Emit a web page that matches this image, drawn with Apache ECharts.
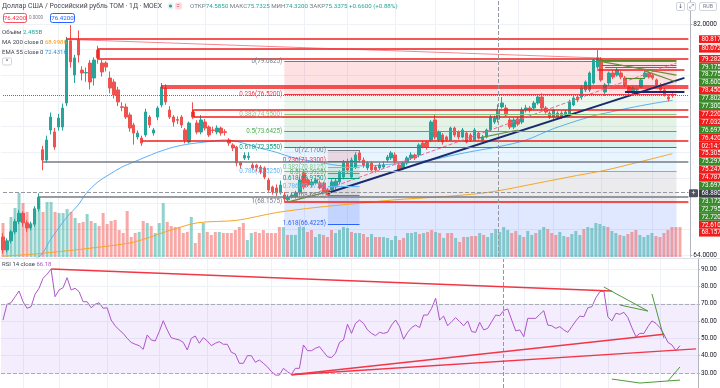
<!DOCTYPE html>
<html>
<head>
<meta charset="utf-8">
<title>USD/RUB TOM</title>
<script src="https://cdn.jsdelivr.net/npm/echarts@6.0.0/dist/echarts.min.js"></script>
<style>
html,body{margin:0;padding:0;background:#ffffff;overflow:hidden;}
#chart{width:720px;height:388px;}
</style>
</head>
<body>
<div id="chart"></div>
<script>
// ================= DATA =================
const categories = Array.from({length: 174}, (_, i) => 'D' + (i + 1));

const opens = [
 65.40, 64.39, 65.10, 65.80, 66.60, 67.25, 66.50, 66.10, 66.40, 67.60,
 72.20, 71.40, 73.74, 73.58, 73.97, 73.97, 75.84, 80.70, 78.02, 80.75,
 78.41, 78.18, 78.96, 77.79, 79.97, 78.96, 78.96, 77.79, 77.48, 76.86,
 75.55, 75.53, 74.91, 74.13, 73.19, 73.11, 73.35, 74.75, 73.50, 74.75,
 75.69, 77.01, 75.30, 74.75, 74.55, 74.75, 73.74, 72.80, 75.14, 74.28,
 73.58, 74.36, 73.97, 73.74, 73.58, 73.89, 73.60, 72.96, 72.57, 72.41,
 71.20, 71.55, 71.60, 71.01, 71.00, 70.85, 70.78, 69.84, 69.30, 69.22,
 68.83, 68.67, 68.30, 68.52, 68.55, 68.83, 70.39, 69.84, 69.45, 69.61,
 69.61, 69.61, 69.06, 69.06, 69.30, 69.69, 70.07, 71.24, 70.07, 70.85,
 71.95, 71.40, 70.78, 71.17, 70.85, 70.78, 70.85, 71.40, 71.56, 71.79,
 71.01, 70.78, 71.17, 71.56, 71.79, 71.79, 72.72, 72.80, 72.96, 74.52,
 72.96, 73.35, 73.19, 72.96, 73.89, 73.58, 73.19, 73.50, 73.35, 72.96,
 73.50, 72.96, 73.19, 73.74, 74.36, 74.585, 75.53, 75.45, 74.52, 73.97,
 74.60, 74.36, 75.30, 75.45, 75.45, 75.84, 76.31, 75.45, 75.06, 74.75,
 74.75, 75.06, 74.91, 74.91, 75.69, 76.31, 76.31, 76.86, 76.86, 77.40,
 78.65, 79.19, 76.70, 77.40, 78.18, 78.02, 78.18, 77.79, 77.09, 76.62,
 76.86, 77.09, 77.87, 78.18, 78.02, 77.64, 77.25, 76.86, 76.31, 76.50
];
const closes = [
 64.39, 65.10, 65.80, 66.60, 67.25, 66.50, 66.10, 66.40, 67.60, 68.50,
 71.40, 72.96, 74.75, 72.41, 74.67, 75.45, 80.75, 79.04, 79.35, 79.58,
 78.18, 78.22, 77.48, 79.19, 79.35, 78.26, 78.65, 77.01, 76.47, 75.92,
 75.50, 74.75, 73.89, 73.50, 73.50, 72.72, 75.14, 74.13, 73.74, 75.45,
 77.09, 75.92, 74.75, 74.36, 74.50, 74.13, 72.96, 74.28, 74.75, 73.58,
 74.52, 73.89, 73.35, 73.70, 73.89, 73.50, 73.55, 72.72, 72.34, 71.17,
 71.00, 71.75, 71.70, 70.78, 70.80, 70.46, 70.07, 69.06, 68.91, 68.83,
 69.45, 68.36, 68.50, 68.67, 68.83, 69.84, 69.30, 69.45, 69.69, 69.84,
 69.22, 68.91, 68.67, 69.69, 69.75, 70.46, 71.24, 70.62, 71.40, 71.79,
 71.40, 71.01, 71.17, 70.62, 70.62, 71.01, 71.01, 71.63, 71.95, 71.24,
 70.62, 71.17, 71.56, 71.79, 71.56, 72.57, 72.41, 72.41, 74.36, 73.19,
 73.58, 72.80, 72.96, 73.89, 73.35, 73.19, 73.74, 72.80, 72.96, 73.74,
 73.11, 73.19, 73.74, 74.75, 74.67, 75.3375, 75.84, 74.91, 73.97, 74.52,
 74.20, 75.30, 75.45, 75.30, 75.84, 76.31, 75.45, 75.14, 74.75, 75.30,
 75.06, 74.75, 75.14, 75.92, 76.23, 76.08, 77.01, 77.48, 78.18, 79.19,
 79.35, 77.64, 77.25, 78.18, 77.87, 78.41, 77.87, 77.25, 76.70, 77.01,
 76.90, 77.64, 78.18, 77.87, 77.79, 77.25, 76.86, 76.47, 76.15, 76.42
];
const lows = [
 64.10, 64.20, 64.90, 65.60, 66.40, 66.20, 65.80, 65.90, 66.20, 67.40,
 70.60, 71.20, 73.40, 72.20, 73.70, 73.70, 75.60, 78.60, 77.40, 79.00,
 77.60, 77.50, 76.90, 77.20, 78.90, 77.90, 78.30, 76.60, 76.20, 75.60,
 75.20, 74.60, 73.60, 72.60, 73.00, 72.50, 73.20, 73.90, 73.30, 74.50,
 75.50, 75.70, 74.60, 74.00, 74.20, 73.90, 72.70, 72.70, 74.60, 73.40,
 73.40, 73.70, 73.20, 73.50, 73.40, 73.30, 73.30, 72.50, 72.10, 70.90,
 70.70, 71.40, 71.40, 70.60, 70.50, 70.30, 69.90, 68.90, 68.70, 68.60,
 68.70, 68.16, 68.20, 68.40, 68.40, 68.70, 69.10, 69.30, 69.30, 69.50,
 69.10, 68.80, 68.63, 68.90, 69.10, 69.50, 69.90, 70.40, 69.90, 70.70,
 71.20, 70.80, 70.60, 70.50, 70.40, 70.60, 70.70, 71.20, 71.40, 71.10,
 70.50, 70.60, 71.00, 71.40, 71.40, 71.60, 72.30, 72.20, 72.80, 73.00,
 72.80, 72.60, 72.80, 72.90, 73.20, 73.00, 73.10, 72.70, 72.80, 72.90,
 73.00, 72.85, 73.10, 73.60, 74.20, 74.32, 75.40, 74.80, 73.80, 73.80,
 74.05, 74.20, 75.10, 75.10, 75.30, 75.70, 75.30, 75.00, 74.60, 74.60,
 74.60, 74.60, 74.80, 74.80, 75.60, 75.90, 76.10, 76.70, 76.70, 77.30,
 78.50, 77.50, 76.40, 77.20, 77.70, 77.90, 77.70, 77.10, 76.55, 76.50,
 76.70, 77.00, 77.75, 77.75, 77.65, 77.10, 76.75, 76.35, 75.95, 76.25
];
const highs = [
 65.70, 65.30, 65.95, 66.80, 67.50, 67.40, 66.70, 66.60, 67.80, 68.80,
 72.50, 73.30, 75.10, 73.90, 75.00, 75.80, 81.00, 81.92, 79.60, 81.50,
 78.70, 78.60, 79.20, 79.40, 80.30, 79.20, 79.10, 78.30, 77.70, 77.10,
 75.90, 75.80, 75.10, 74.30, 73.70, 73.30, 75.40, 74.90, 73.90, 75.60,
 77.40, 77.30, 75.60, 74.90, 74.80, 74.90, 73.90, 74.40, 75.90, 74.50,
 74.90, 74.60, 74.10, 74.00, 74.10, 74.00, 73.80, 73.10, 72.70, 72.50,
 71.30, 72.00, 72.00, 71.20, 71.10, 71.00, 70.90, 70.00, 69.40, 69.50,
 69.80, 68.90, 68.70, 68.90, 69.00, 70.10, 70.60, 70.00, 69.90, 70.00,
 69.80, 69.70, 69.20, 69.90, 69.95, 70.60, 71.40, 71.50, 71.60, 72.00,
 72.17, 71.60, 71.30, 71.30, 71.00, 71.20, 71.30, 71.80, 72.10, 72.00,
 71.20, 71.30, 71.70, 72.00, 71.90, 72.70, 72.90, 72.90, 74.50, 74.90,
 73.70, 73.50, 73.30, 74.00, 74.00, 73.70, 73.90, 73.60, 73.50, 73.90,
 73.60, 73.35, 73.85, 74.90, 74.85, 75.7325, 76.30, 75.70, 74.70, 74.70,
 74.80, 75.50, 75.70, 75.60, 76.00, 76.50, 76.60, 75.60, 75.20, 75.40,
 75.20, 75.20, 75.30, 76.10, 76.40, 76.50, 77.20, 77.60, 78.30, 79.30,
 79.97, 79.40, 77.40, 78.30, 78.35, 78.60, 78.35, 77.95, 77.20, 77.15,
 77.05, 77.80, 78.35, 78.30, 78.15, 77.75, 77.40, 77.00, 76.45, 76.60
];
// volume in billions RUB
const volumesB = [
 2.82, 1.25, 3.32, 4.07, 5.31, 4.48, 3.74, 2.82, 3.90, 4.98,
 3.74, 4.57, 4.57, 3.74, 3.65, 3.65, 3.98, 3.74, 3.24, 2.82,
 2.91, 3.57, 2.99, 2.82, 2.57, 3.65, 2.74, 2.99, 3.07, 2.24,
 1.99, 3.82, 1.66, 1.99, 2.08, 2.99, 2.82, 2.57, 1.99, 2.82,
 4.48, 2.91, 2.57, 2.49, 2.49, 1.99, 2.08, 3.32, 1.16, 1.99,
 2.82, 2.08, 1.83, 2.08, 2.08, 1.99, 1.99, 1.99, 2.24, 2.49,
 2.82, 1.41, 1.99, 2.08, 1.99, 2.24, 1.99, 1.99, 1.99, 2.49,
 2.49, 1.83, 1.83, 1.83, 2.49, 2.49, 2.08, 2.24, 1.66, 1.91,
 1.83, 1.66, 2.24, 1.99, 2.24, 2.49, 2.41, 2.08, 1.99, 1.99,
 1.91, 1.66, 1.91, 1.66, 1.66, 1.66, 1.58, 1.41, 1.74, 1.41,
 1.58, 1.99, 1.99, 2.08, 1.91, 1.99, 2.08, 2.24, 2.08, 1.99,
 1.58, 1.99, 1.99, 1.58, 1.25, 1.66, 1.66, 1.74, 1.74, 1.99,
 1.83, 1.66, 1.99, 2.32, 2.08, 2.49, 2.24, 1.99, 2.16, 1.83,
 1.66, 2.16, 1.83, 1.99, 2.24, 2.49, 2.32, 1.99, 1.83, 2.08,
 1.74, 1.66, 1.91, 2.16, 1.83, 2.32, 2.49, 2.41, 2.82, 2.74,
 2.57, 2.49, 2.16, 1.99, 1.83, 1.74, 1.91, 2.08, 2.24, 1.83,
 1.66, 1.83, 1.99, 1.74, 1.66, 1.99, 2.24, 2.49, 2.49, 2.485
];
const rsi14 = [
 60.6, 69.7, 70.6, 74.0, 77.4, 71.2, 67.4, 68.3, 75.5, 79.0,
 84.7, 87.1, 90.1, 74.1, 78.0, 79.3, 85.1, 78.0, 79.0, 77.0,
 71.2, 71.2, 67.7, 69.7, 70.6, 67.4, 67.7, 60.6, 57.3, 54.9,
 52.9, 50.0, 47.7, 46.6, 45.8, 43.7, 52.0, 49.1, 48.5, 53.9,
 60.2, 54.9, 50.4, 49.7, 49.1, 47.7, 43.3, 50.0, 51.4, 47.2,
 50.4, 48.5, 45.8, 47.2, 48.1, 46.6, 46.6, 42.0, 41.0, 35.6,
 35.6, 40.0, 40.0, 36.2, 37.5, 35.6, 33.6, 30.8, 28.8, 28.8,
 32.7, 30.8, 29.2, 32.7, 32.7, 46.2, 42.9, 42.9, 44.3, 45.2,
 42.3, 39.4, 38.9, 41.4, 47.7, 49.1, 58.2, 52.9, 58.7, 60.6,
 58.7, 54.9, 52.9, 51.6, 53.5, 52.9, 53.5, 57.7, 60.6, 56.8,
 49.5, 53.5, 56.2, 57.7, 56.2, 63.5, 63.5, 67.4, 73.2, 60.6,
 62.9, 57.3, 59.7, 62.0, 59.7, 57.3, 60.1, 53.9, 53.5, 59.3,
 54.9, 55.8, 59.7, 63.5, 63.1, 66.2, 67.0, 60.6, 54.3, 54.9,
 51.0, 61.6, 61.6, 61.6, 63.9, 66.0, 57.7, 57.3, 55.8, 56.8,
 54.9, 53.5, 56.8, 60.1, 62.9, 62.5, 67.7, 68.3, 73.5, 77.0,
 77.4, 62.5, 60.1, 64.5, 63.9, 65.1, 62.0, 56.2, 51.0, 52.9,
 52.9, 56.8, 60.1, 58.7, 56.2, 52.4, 47.7, 46.2, 42.9, 45.8
];
// indicator readings [candle index, value]
const ema55Pts = [[0,63.3],[9,63.84],[12,65.2],[16,66.9],[19,67.9],[21,68.8],[24,69.7],[27,70.3],[30,70.85],[33,71.24],[36,71.63],[39,72.0],[43,72.4],[47,72.65],[51,72.8],[56,72.96],[59,72.85],[64,72.4],[69,72.0],[73,71.6],[80,71.2],[86,70.95],[92,70.95],[99,71.1],[108,71.4],[114,71.8],[119,72.1],[125,72.43],[132,72.95],[139,73.85],[149,74.85],[152,75.05],[158,75.45],[164,75.8],[169,76.05]];
const ma200Pts = [[0,63.9],[9,64.1],[24,64.6],[33,65.0],[41,65.8],[49,66.5],[59,66.7],[69,67.3],[79,67.7],[89,68.0],[99,68.3],[109,68.5],[119,68.75],[125,69.0],[135,69.6],[145,70.2],[152,70.6],[160,71.2],[169,71.9]];

// drawings: horizontal rays [startIdx, endIdx, price, kind]
const hLevels = [
 [16,173,80.8175,'red'],[24,173,80.0725,'red'],[24,173,79.2825,'red'],[150,172,78.45,'red'],
 [40,173,77.22,'red'],[40,173,77.0325,'red'],[48,173,75.305,'red'],[48,173,74.7875,'red'],
 [35,173,72.88,'red'],[71,173,68.1575,'red'],[10,173,71.27,'gray'],[9,173,68.54,'gray'],
 [150,170,79.175,'green'],[151,170,78.775,'green'],[152,170,78.60,'green'],[157,162,77.8025,'green'],
 [157,172,76.70,'navy']
];
// segments [i1, p1, i2, p2, kind]
const trendLines = [
 [24,80.0725,24,79.2825,'red'],[40,77.22,40,77.0325,'red'],[48,75.305,48,74.7875,'red'],
 [16,80.80,151,79.35,'redThin'],[82,68.83,172,77.80,'navy'],[74,68.28,170,78.96,'pinkDash'],
 [72,68.13,82,68.91,'olive'],[120,73.11,130,73.74,'olive'],[150,79.12,170,78.02,'olive'],[162,78.35,170,77.48,'olive']
];
const rsiLines = [
 [12,90.1,152,77.4,'red'],[72,29.0,165,52.4,'red'],[72,29.0,173,43.9,'red'],
 [150,79.7,161,65.8,'green'],[154,69.3,161,65.8,'green'],[162,75.7,165,50.2,'green'],
 [152,26.5,159,24.2,'green'],[159,24.2,166,25.4,'green'],[166,25.4,169,33.5,'green'],[166,25.4,169,25.9,'green']
];
const fibRatios = [0, 0.236, 0.382, 0.5, 0.618, 0.786, 1, 1.618];
const fib1 = {from: 71, to: 170, prices: [79.0825, 76.52, 74.95, 73.6425, 72.355, 70.525, 68.1575, null]};
const fib2 = {from: 82, to: 90, prices: [72.17, 71.33, 70.8125, 70.3925, 69.975, 69.3775, 68.6275, 66.4225]};
const crossIdx = 125, crossPrice = 68.88, lastPrice = 76.42;
const vGridIdx = [5, 14, 26, 39, 51, 67, 76, 87, 99, 109, 119, 130, 139, 151, 164];
const priceGrid = [64, 66, 68, 70, 72, 74, 76, 78, 80, 82];
const rsiTicks = [30, 40, 50, 60, 70, 80, 90];
const axisTags = [
 ['80.8175',80.8175,'r'],['80.0725',80.0725,'r'],['79.2825',79.2825,'r'],['79.1750',79.175,'g'],
 ['78.7750',78.775,'g'],['78.6000',78.60,'g'],['78.4500',78.45,'r'],['77.8025',77.8025,'g'],
 ['77.3000',77.30,'g'],['77.2200',77.22,'r'],['77.0325',77.0325,'r'],['76.6975',76.6975,'g'],
 ['76.4200',76.42,'r'],['02:14:12',76.42,'r'],['75.3050',75.305,'r'],['75.2975',75.2975,'g'],
 ['75.2475',75.2475,'r'],['74.7875',74.7875,'r'],['73.6975',73.6975,'g'],['68.8800',68.88,'x'],
 ['73.1725',73.1725,'g'],['72.7950',72.795,'g'],['72.7200',72.72,'g'],['72.6100',72.61,'r'],['68.1575',68.1575,'r']
];
const titleText = 'Доллар США / Российский рубль TOM · 1Д · MOEX';
const ohlcLabels = ['ОТКР', 'МАКС', 'МИН', 'ЗАКР'];
const ohlcValues = ['74.5850', '75.7325', '74.3200', '75.3375'];
const changeText = '+0.6600 (+0.88%)';

// ================= CHART =================
const chart = echarts.init(document.getElementById('chart'));
const PRICE_MIN = 63.84, PRICE_MAX = 83.87, RSI_MIN = 21.33, RSI_MAX = 96.47;
const FONT = 'Roboto, "Noto Sans", "DejaVu Sans", sans-serif';
const UP = '#26A69A', DOWN = '#EF5350';

const candleData = opens.map((o, i) => [o, closes[i], lows[i], highs[i]]);
const volData = volumesB.map((v, i) => ({value: v, itemStyle: {color: closes[i] >= opens[i] ? 'rgba(38,166,154,0.5)' : 'rgba(239,83,80,0.5)'}}));
const nulls = categories.map(() => null);
function sparse(points) { const a = opens.map(() => null); points.forEach(p => { a[p[0]] = p[1]; }); return a; }
function rgba(hex, a) { const n = parseInt(hex.slice(1), 16); return 'rgba(' + (n >> 16) + ',' + ((n >> 8) & 255) + ',' + (n & 255) + ',' + a + ')'; }

const STY = {
 red: {color: '#F21C1C', width: 1.5}, gray: {color: '#787B86', width: 1.5}, green: {color: '#4C8A2A', width: 1.2},
 navy: {color: '#1B2A6E', width: 2}, redThin: {color: 'rgba(242,54,69,0.6)', width: 1},
 pinkDash: {color: '#F06292', width: 1, type: 'dashed'}, olive: {color: '#6B8E3A', width: 1.2}
};
function seg(i1, p1, i2, p2, style, extra) {
 return [Object.assign({coord: [i1, p1], lineStyle: {color: style.color, width: style.width, type: style.type || 'solid'}}, extra || {}), {coord: [i2, p2]}];
}
const fibColors = ['#787B86', '#F23645', '#81C784', '#4CAF50', '#089981', '#64B5F6', '#787B86', '#2962FF'];
function fibLines(f) {
 const out = [];
 f.prices.forEach((p, k) => {
  if (p === null) return;
  out.push(seg(f.from, p, f.to, p, {color: fibColors[k], width: 1}, {
   label: {show: true, position: 'start', distance: 2, formatter: fibRatios[k] + '(' + p.toFixed(4) + ')', color: fibColors[k], fontSize: 6.3, fontFamily: FONT}
  }));
 });
 return out;
}
function fibAreas(f) {
 const out = [];
 for (let k = 0; k < f.prices.length - 1; k++) {
  const lo = f.prices[k + 1] === null ? PRICE_MIN : f.prices[k + 1];
  out.push([{coord: [f.from, f.prices[k]], itemStyle: {color: rgba(fibColors[k + 1], 0.15)}}, {coord: [f.to, lo]}]);
 }
 return out;
}

const crossStyle = {color: '#9598A1', width: 1, type: 'dashed'};
const drawingLines = []
 .concat(hLevels.map(h => seg(h[0], h[2], h[1], h[2], STY[h[3]])))
 .concat(trendLines.map(t => seg(t[0], t[1], t[2], t[3], STY[t[4]])))
 .concat(fibLines(fib1)).concat(fibLines(fib2))
 .concat([seg(0, lastPrice, 173, lastPrice, {color: '#F23645', width: 1, type: 'dotted'})])
 .concat([seg(0, crossPrice, 173, crossPrice, crossStyle), {xAxis: crossIdx, lineStyle: crossStyle}]);

const rsiMarks = [
 {yAxis: 70, lineStyle: {type: 'dashed', color: '#A9ACB6', width: 1}},
 {yAxis: 30, lineStyle: {type: 'dashed', color: '#A9ACB6', width: 1}},
 {xAxis: crossIdx, lineStyle: crossStyle}
].concat(rsiLines.map(t => seg(t[0], t[1], t[2], t[3], t[4] === 'red' ? {color: '#F23645', width: 1.3} : {color: '#4C9A3A', width: 1})));

const gridLineStyle = {color: '#EEF1F6', width: 1, type: 'solid'};
const baseX = {type: 'category', data: categories, boundaryGap: true, show: false};

function txt(x, y, text, fill, size, extra) {
 return Object.assign({type: 'text', x: x, y: y, z: 100, silent: true, style: {text: text, fill: fill, fontSize: size, fontFamily: FONT, verticalAlign: 'middle'}}, extra || {});
}
function rich(x, y, text, richMap, size) {
 const r = {};
 Object.keys(richMap).forEach(k => { r[k] = {fill: richMap[k], fontSize: size, fontFamily: FONT}; });
 return {type: 'text', x: x, y: y, z: 100, silent: true, style: {text: text, rich: r, fontSize: size, fontFamily: FONT, verticalAlign: 'middle'}};
}
function box(x, y, w, h, fill, stroke, r) {
 return {type: 'rect', z: 99, silent: true, shape: {x: x, y: y, width: w, height: h, r: r || 0}, style: {fill: fill, stroke: stroke || null, lineWidth: stroke ? 1 : 0}};
}

let ohlcText = ohlcLabels.map((l, i) => '{l|' + l + '}{v|' + ohlcValues[i] + '}').join(' ') + ' {v|' + changeText + '}';
const header = [
 txt(2, 6.5, titleText, '#434651', 6.8),
 box(167.5, 2.5, 6, 7, '#EEF1F6', null, 1.5),
 {type: 'circle', z: 100, silent: true, shape: {cx: 170.5, cy: 6, r: 1.6}, style: {fill: '#26A69A'}},
 box(175, 2.5, 7, 7, '#FBDDE3', null, 1.5),
 txt(176.3, 6.3, '=', '#F23645', 6.5),
 rich(190, 6.5, ohlcText, {l: '#787B86', v: '#26A69A'}, 6.2),
 box(3.5, 13.5, 23, 9, '#FFFFFF', '#F7525F', 2),
 txt(15, 18, '76.4200', '#F23645', 6.2, {style: {text: '76.4200', fill: '#F23645', fontSize: 6.2, fontFamily: FONT, verticalAlign: 'middle', align: 'center'}}),
 txt(29, 18, '0.0000', '#787B86', 4.6),
 box(50.5, 13.5, 24, 9, '#FFFFFF', '#2962FF', 2),
 txt(62.5, 18, '76.4200', '#2962FF', 6.2, {style: {text: '76.4200', fill: '#2962FF', fontSize: 6.2, fontFamily: FONT, verticalAlign: 'middle', align: 'center'}}),
 rich(2, 32, '{d|Объём} {t|2.485B}', {d: '#434651', t: '#26A69A'}, 6.2),
 rich(2, 42, '{d|MA 200 close 0} {o|68.9986}', {d: '#434651', o: '#FF9800'}, 6),
 rich(2, 52, '{d|EMA 55 close 0} {b|72.4316}', {d: '#434651', b: '#2196F3'}, 6),
 box(2.5, 58, 9, 7, '#FFFFFF', '#D1D4DC', 1.5),
 txt(7, 61.8, '^', '#434651', 6, {style: {text: '^', fill: '#434651', fontSize: 6, fontFamily: FONT, verticalAlign: 'middle', align: 'center'}}),
 rich(2, 264.5, '{d|RSI 14 close} {p|66.18}', {d: '#434651', p: '#AE55C9'}, 6),
 box(676.5, 2.5, 8, 8, '#FFFFFF', '#D1D4DC', 1.5),
 txt(680.5, 6.7, '↓', '#434651', 6, {style: {text: '↓', fill: '#434651', fontSize: 6, fontFamily: FONT, verticalAlign: 'middle', align: 'center'}}),
 box(687.5, 2.5, 8, 8, '#FFFFFF', '#D1D4DC', 1.5),
 txt(691.5, 6.7, '⤢', '#434651', 6, {style: {text: '⤢', fill: '#434651', fontSize: 6, fontFamily: '"DejaVu Sans", sans-serif', verticalAlign: 'middle', align: 'center'}}),
 box(699.5, 2.5, 17, 8, '#FFFFFF', '#D1D4DC', 1.5),
 txt(708, 6.7, 'RUB', '#787B86', 5.2, {style: {text: 'RUB', fill: '#787B86', fontSize: 5.2, fontFamily: FONT, verticalAlign: 'middle', align: 'center'}}),
 {type: 'line', z: 98, silent: true, shape: {x1: 0, y1: 258.5, x2: 720, y2: 258.5}, style: {stroke: '#E0E3EB', lineWidth: 1}}
];

const option = {
 animation: false,
 backgroundColor: '#FFFFFF',
 textStyle: {fontFamily: FONT},
 grid: [
  {left: 1, right: 22, top: 0, height: 257},
  {left: 1, right: 22, top: 157, height: 100},
  {left: 1, right: 22, top: 258, height: 130}
 ],
 xAxis: [Object.assign({gridIndex: 0}, baseX), Object.assign({gridIndex: 1}, baseX), Object.assign({gridIndex: 2}, baseX)],
 yAxis: [
  {type: 'value', gridIndex: 0, position: 'right', min: PRICE_MIN, max: PRICE_MAX,
   axisLine: {show: true, lineStyle: {color: '#B2B5BE'}},
   axisTick: {show: true, length: 2, customValues: [64, 82], lineStyle: {color: '#B2B5BE'}},
   axisLabel: {customValues: [64, 82], formatter: v => v.toFixed(4), fontSize: 6.5, color: '#131722', margin: 3, fontFamily: FONT},
   splitLine: {show: false}},
  {type: 'value', gridIndex: 1, min: 0, max: 8.3, show: false, splitLine: {show: false}},
  {type: 'value', gridIndex: 2, position: 'right', min: RSI_MIN, max: RSI_MAX,
   axisLine: {show: true, lineStyle: {color: '#B2B5BE'}},
   axisTick: {show: true, length: 2, customValues: rsiTicks, lineStyle: {color: '#B2B5BE'}},
   axisLabel: {customValues: rsiTicks, formatter: v => v.toFixed(2), fontSize: 6.3, color: '#131722', margin: 3, fontFamily: FONT},
   splitLine: {show: false}}
 ],
 graphic: header,
 series: [
  {name: 'grid-main', type: 'line', xAxisIndex: 0, yAxisIndex: 0, data: nulls, symbol: 'none', silent: true,
   markLine: {silent: true, symbol: ['none', 'none'], z: 0, label: {show: false}, lineStyle: gridLineStyle,
    data: priceGrid.map(v => ({yAxis: v})).concat(vGridIdx.map(i => ({xAxis: i})))}},
  {name: 'fib-fill', type: 'line', xAxisIndex: 0, yAxisIndex: 0, data: nulls, symbol: 'none', silent: true,
   markArea: {silent: true, z: 1, data: fibAreas(fib1).concat(fibAreas(fib2))}},
  {name: 'Объём', type: 'bar', xAxisIndex: 1, yAxisIndex: 1, data: volData, barWidth: 3, z: 1, silent: true},
  {name: 'MA 200', type: 'line', xAxisIndex: 0, yAxisIndex: 0, data: sparse(ma200Pts), connectNulls: true, smooth: 0.3,
   symbol: 'none', silent: true, lineStyle: {color: '#F5A623', width: 1}, z: 2},
  {name: 'EMA 55', type: 'line', xAxisIndex: 0, yAxisIndex: 0, data: sparse(ema55Pts), connectNulls: true, smooth: 0.3,
   symbol: 'none', silent: true, lineStyle: {color: '#5DADF5', width: 1}, z: 2},
  {name: 'USD/RUB', type: 'candlestick', xAxisIndex: 0, yAxisIndex: 0, data: candleData, barWidth: 3, z: 3, silent: true,
   itemStyle: {color: UP, color0: DOWN, borderColor: UP, borderColor0: DOWN, borderWidth: 1}},
  {name: 'drawings', type: 'line', xAxisIndex: 0, yAxisIndex: 0, data: nulls, symbol: 'none', silent: true,
   markLine: {silent: true, symbol: ['none', 'none'], z: 6, label: {show: false}, data: drawingLines}},
  {name: 'grid-rsi', type: 'line', xAxisIndex: 2, yAxisIndex: 2, data: nulls, symbol: 'none', silent: true,
   markLine: {silent: true, symbol: ['none', 'none'], z: 0, label: {show: false}, lineStyle: gridLineStyle,
    data: rsiTicks.map(v => ({yAxis: v})).concat(vGridIdx.map(i => ({xAxis: i})))}},
  {name: 'RSI 14', type: 'line', xAxisIndex: 2, yAxisIndex: 2, data: rsi14, symbol: 'none', silent: true, z: 4,
   lineStyle: {color: '#AE55C9', width: 1},
   markArea: {silent: true, z: 1, itemStyle: {color: 'rgba(149,76,233,0.1)'}, data: [[{yAxis: 30}, {yAxis: 70}]]},
   markLine: {silent: true, symbol: ['none', 'none'], z: 5, label: {show: false}, data: rsiMarks}}
 ]
};
chart.setOption(option);

// price-axis tags, stacked like the terminal does
const tagGraphics = [];
let prevY = -Infinity;
axisTags.forEach(t => {
 const real = chart.convertToPixel({yAxisIndex: 0}, t[1]);
 const y = Math.max(real, prevY + 7.9);
 prevY = y;
 const fill = t[2] === 'r' ? '#F21C1C' : (t[2] === 'g' ? '#3A8A2C' : '#3A3E4A');
 tagGraphics.push(box(699, y - 3.9, 22, 7.8, fill, null, 0));
 tagGraphics.push(txt(701.5, y + 0.2, t[0], '#FFFFFF', 6.3));
 if (t[2] === 'x') {
  tagGraphics.push(box(689, y - 4, 9, 8, '#50535E', null, 1));
  tagGraphics.push(txt(693.5, y + 0.2, '+', '#FFFFFF', 7, {style: {text: '+', fill: '#FFFFFF', fontSize: 7, fontFamily: FONT, verticalAlign: 'middle', align: 'center'}}));
 }
});
chart.setOption({graphic: header.concat(tagGraphics)});
</script>
</body>
</html>
